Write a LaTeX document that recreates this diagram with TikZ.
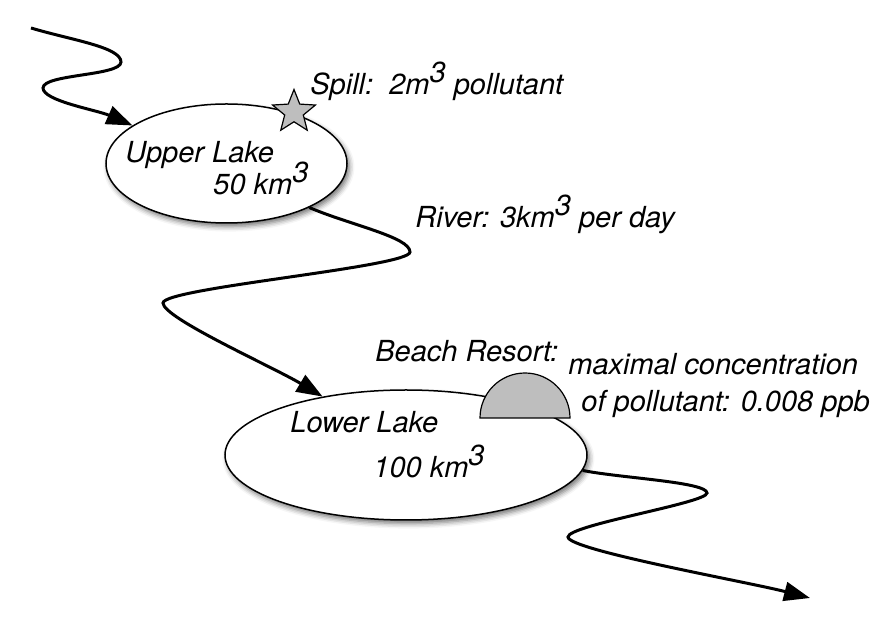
\documentclass[tikz,border=0pt]{standalone}
\usepackage{fontspec}
\setmainfont{TeX Gyre Heros}
\definecolor{resortgray}{RGB}{190,190,190}
\usepackage{tikz}
\usetikzlibrary{shapes,arrows.meta,positioning,shadows.blur}
\newcommand{\cubed}{\raisebox{0.42em}{3}}

\begin{document}
\begin{tikzpicture}[x=0.5pt, y=-0.5pt,
        lake/.style={ellipse, draw, line width=0.75pt, fill=white, inner sep=0pt,
            blur shadow={shadow xshift=1.2pt, shadow yshift=-1.8pt, shadow blur radius=2.5pt, shadow opacity=55}},
        river/.style={line width=1.5pt, -{Triangle[length=13pt, width=9.5pt]}},
        lbl/.style={anchor=base west, inner sep=0pt, font=\itshape\fontsize{14.5}{17}\selectfont}]
    \useasboundingbox (0,0) rectangle (890,624);

    % lakes
    \node[lake, minimum width=120.5pt, minimum height=59.5pt] (upper) at (226.5,163.5) {};
    \node[lake, minimum width=181pt, minimum height=65pt] (lower) at (406,455) {};

    \node[lbl] (upperName) at (125,163) {Upper Lake};
    \node[lbl] (upperVol) at (213,195) {50 km\cubed};
    \node[lbl] (lowerName) at (290,433) {Lower Lake};
    \node[lbl] (lowerVol) at (373,478) {100 km\cubed};

    % spill
    \node[star, star points=5, star point ratio=2.3, draw, line width=0.6pt, fill=resortgray,
        inner sep=0pt, minimum size=22.5pt] (spill) at (294,112) {};
    \node[lbl] (spillText) at (310,95) {Spill:\ \ 2m\cubed\ pollutant};

    % beach resort
    \draw[line width=0.6pt, fill=resortgray] (480,418) arc[start angle=180, end angle=360, radius=45] -- cycle;
    \node[lbl] (resortText) at (375,362) {Beach Resort:};
    \node[lbl] (limitA) at (568,375) {maximal concentration};
    \node[lbl] (limitB) at (581,412) {of pollutant: 0.008 ppb};

    % rivers
    \coordinate (source) at (31,28);
    \coordinate (sink) at (810,598);
    \draw[river] (source) .. controls (71,40) and (121,47) .. (121,62)
        .. controls (121,76) and (43,74) .. (43,88)
        .. controls (43,101) and (97,110) .. (upper.158);
    \draw[river] (upper.-28) .. controls (350,225) and (410,237) .. (410,252)
        .. controls (410,267) and (163,288) .. (163,303)
        .. controls (163,318) and (273,367) .. (lower.145);
    \draw[river] (lower.-5) .. controls (620,478) and (707,482) .. (707,493)
        .. controls (707,503) and (568,525) .. (568,537)
        .. controls (568,550) and (748,582) .. (sink);
    \node[lbl] (riverText) at (415,228) {River: 3km\cubed\ per day};
\end{tikzpicture}
\end{document}
